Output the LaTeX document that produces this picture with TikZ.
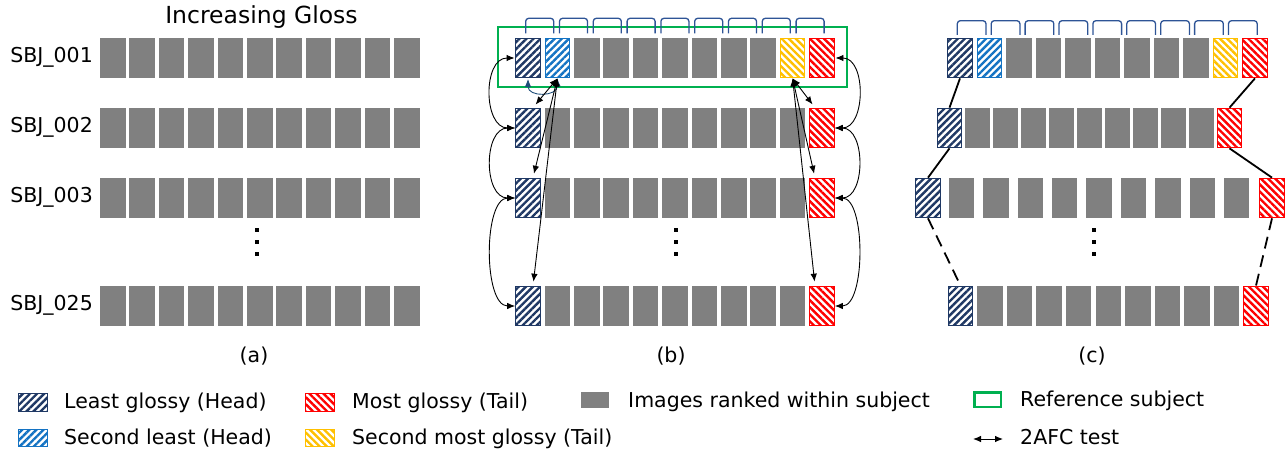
\documentclass[tikz,border=0pt]{standalone}
\usepackage{fontspec}
\setmainfont{DejaVu Sans}
\usetikzlibrary{arrows.meta,patterns.meta}
\definecolor{imggray}{RGB}{128,128,128}
\definecolor{headblue}{RGB}{31,56,100}
\definecolor{secblue}{RGB}{20,115,195}
\definecolor{tailred}{RGB}{255,0,0}
\definecolor{secyellow}{RGB}{255,192,0}
\definecolor{refgreen}{RGB}{0,176,80}
\definecolor{brackblue}{RGB}{46,84,150}
\definecolor{arcblue}{RGB}{31,78,121}

\begin{document}
\begin{tikzpicture}[x=1pt,y=-1pt,
  img/.style={rectangle,fill=imggray,minimum width=25.5pt,minimum height=40pt,inner sep=0pt},
  hatch/.style={rectangle,draw=#1,line width=1.2pt,minimum width=24.5pt,minimum height=39.5pt,inner sep=0pt,pattern color=#1},
  headbox/.style={hatch=headblue,pattern={Lines[angle=45,distance=5pt,line width=2.4pt]}},
  secbox/.style={hatch=secblue,pattern={Lines[angle=45,distance=5pt,line width=2.4pt]}},
  tailbox/.style={hatch=tailred,pattern={Lines[angle=-45,distance=5pt,line width=2.4pt]}},
  ylwbox/.style={hatch=secyellow,pattern={Lines[angle=-45,distance=5pt,line width=2.4pt]}},
  txt/.style={inner sep=0pt,font=\fontsize{20.5pt}{24pt}\selectfont},
  afc/.style={{Latex[length=8pt,width=6.5pt]}-{Latex[length=8pt,width=6.5pt]},line width=0.9pt},
  bracket/.style={brackblue,line width=1.3pt,rounded corners=3pt},
  link/.style={line width=1.8pt}
]
\useasboundingbox (0,0) rectangle (1285,452);

% (a) subjects ranked separately
\node[txt,font=\fontsize{23.5pt}{28pt}\selectfont,anchor=base] (title) at (261.5,23.5) {Increasing Gloss};
\foreach \yc [count=\r] in {58,128,198,306}
  \foreach \k in {0,...,10}
    \node[img] (a\r-\k) at (112.75+29.4*\k,\yc) {};
\foreach \yc/\sbj in {58/001,128/002,198/003,306/025}
  \node[txt,anchor=base east] (sbj\sbj) at (93,\yc+4.7) {SBJ\_\sbj};
\node[txt,anchor=base] (capa) at (254,362) {(a)};

% (b) 2AFC tests against the reference subject
\foreach \yc [count=\r] in {58,128,198,306} {
  \node[headbox] (hb\r) at (528,\yc) {};
  \node[tailbox] (tb\r) at (822,\yc) {};
}
\node[secbox] (sb1) at (557.4,58) {};
\node[ylwbox] (yb1) at (792.6,58) {};
\foreach \k in {2,...,8} \node[img] (b1-\k) at (528+29.4*\k,58) {};
\foreach \yc [count=\r from 2] in {128,198,306}
  \foreach \k in {1,...,9} \node[img] (b\r-\k) at (528+29.4*\k,\yc) {};
\draw[refgreen,line width=2.5pt] (498,27) rectangle (847,87);
\foreach \i in {0,...,8}
  \draw[bracket] (525.7+33.8*\i,33.3) -- ++(0,-15) -- ++(28,0) -- ++(0,15);
\foreach \r [count=\s from 2] in {1,2,3} {
  \draw[afc] (hb\r.west) to[out=180,in=180,distance=32pt] (hb\s.west);
  \draw[afc] (tb\r.east) to[out=0,in=0,distance=31pt] (tb\s.east);
}
\draw[afc,arcblue] (hb1.south) to[out=-90,in=-90,looseness=1.6] (sb1.south);
\foreach \r in {2,3,4} {
  \draw[afc,shorten >=4pt] (sb1.south) -- ([xshift=5pt]hb\r.north);
  \draw[afc,shorten >=4pt] (yb1.south) -- ([xshift=-7pt]tb\r.north);
}
\node[txt,anchor=base] (capb) at (671,362) {(b)};

% (c) heads and tails aligned across subjects
\node[headbox] (hc1) at (960,58) {};
\node[secbox] (sc1) at (989.5,58) {};
\foreach \k in {2,...,8} \node[img] (c1-\k) at (960+29.5*\k,58) {};
\node[ylwbox] (yc1) at (1225.5,58) {};
\node[tailbox] (tc1) at (1255,58) {};
\node[headbox] (hc2) at (949.5,128) {};
\foreach \k in {1,...,9} \node[img,minimum width=24.5pt] (c2-\k) at (949.5+28*\k,128) {};
\node[tailbox] (tc2) at (1229.5,128) {};
\node[headbox] (hc3) at (928,198) {};
\foreach \k in {1,...,9} \node[img] (c3-\k) at (927.1+34.4*\k,198) {};
\node[tailbox] (tc3) at (1272,198) {};
\node[headbox] (hc4) at (960.5,306) {};
\foreach \k in {1,...,9} \node[img] (c4-\k) at (960.5+29.55*\k,306) {};
\node[tailbox] (tc4) at (1256,306) {};
\foreach \i in {0,...,8}
  \draw[bracket] (957.3+33.9*\i,35) -- ++(0,-14.3) -- ++(28.7,0) -- ++(0,14.3);
\draw[link] (hc1.south) -- (hc2.north);
\draw[link] (hc2.south) -- (hc3.north);
\draw[link,dash pattern=on 12pt off 7pt] (hc3.south) -- (hc4.north);
\draw[link] (tc1.south) -- (tc2.north);
\draw[link] (tc2.south) -- (tc3.north);
\draw[link,dash pattern=on 12pt off 7pt] (tc3.south) -- (tc4.north);
\node[txt,anchor=base] (capc) at (1092,362) {(c)};

% vertical dots
\foreach \xx in {257,676,1094}
  \foreach \yy in {230,242,254}
    \fill (\xx-2,\yy-2) rectangle ++(4,4);

% Legend
\node[headbox,minimum width=28.5pt,minimum height=17.5pt] (lgHead) at (33,402.5) {};
\node[secbox,minimum width=28.5pt,minimum height=17.5pt] (lgSec) at (33,438) {};
\node[tailbox,minimum width=28.5pt,minimum height=17.5pt] (lgTail) at (320,402.5) {};
\node[ylwbox,minimum width=28.5pt,minimum height=17.5pt] (lgYlw) at (320,438) {};
\node[img,minimum width=28pt,minimum height=16pt] (lgImg) at (595,400) {};
\node[draw=refgreen,line width=2.5pt,minimum width=26.5pt,minimum height=14.5pt,inner sep=0pt] (lgRef) at (987.5,399.5) {};
\coordinate (lgA) at (973,439);
\coordinate (lgB) at (1003,439);
\draw[afc] (lgA) -- (lgB);
\node[txt,anchor=base west] (lgHeadTxt) at (64,408) {Least glossy (Head)};
\node[txt,anchor=base west] (lgSecTxt) at (64,444.5) {Second least (Head)};
\node[txt,anchor=base west] (lgTailTxt) at (352,408) {Most glossy (Tail)};
\node[txt,anchor=base west] (lgYlwTxt) at (352,444.5) {Second most glossy (Tail)};
\node[txt,anchor=base west] (lgImgTxt) at (628,407.5) {Images ranked within subject};
\node[txt,anchor=base west] (lgRefTxt) at (1020,406.7) {Reference subject};
\node[txt,anchor=base west] (lgAfcTxt) at (1020,444.3) {2AFC test};
\end{tikzpicture}
\end{document}
